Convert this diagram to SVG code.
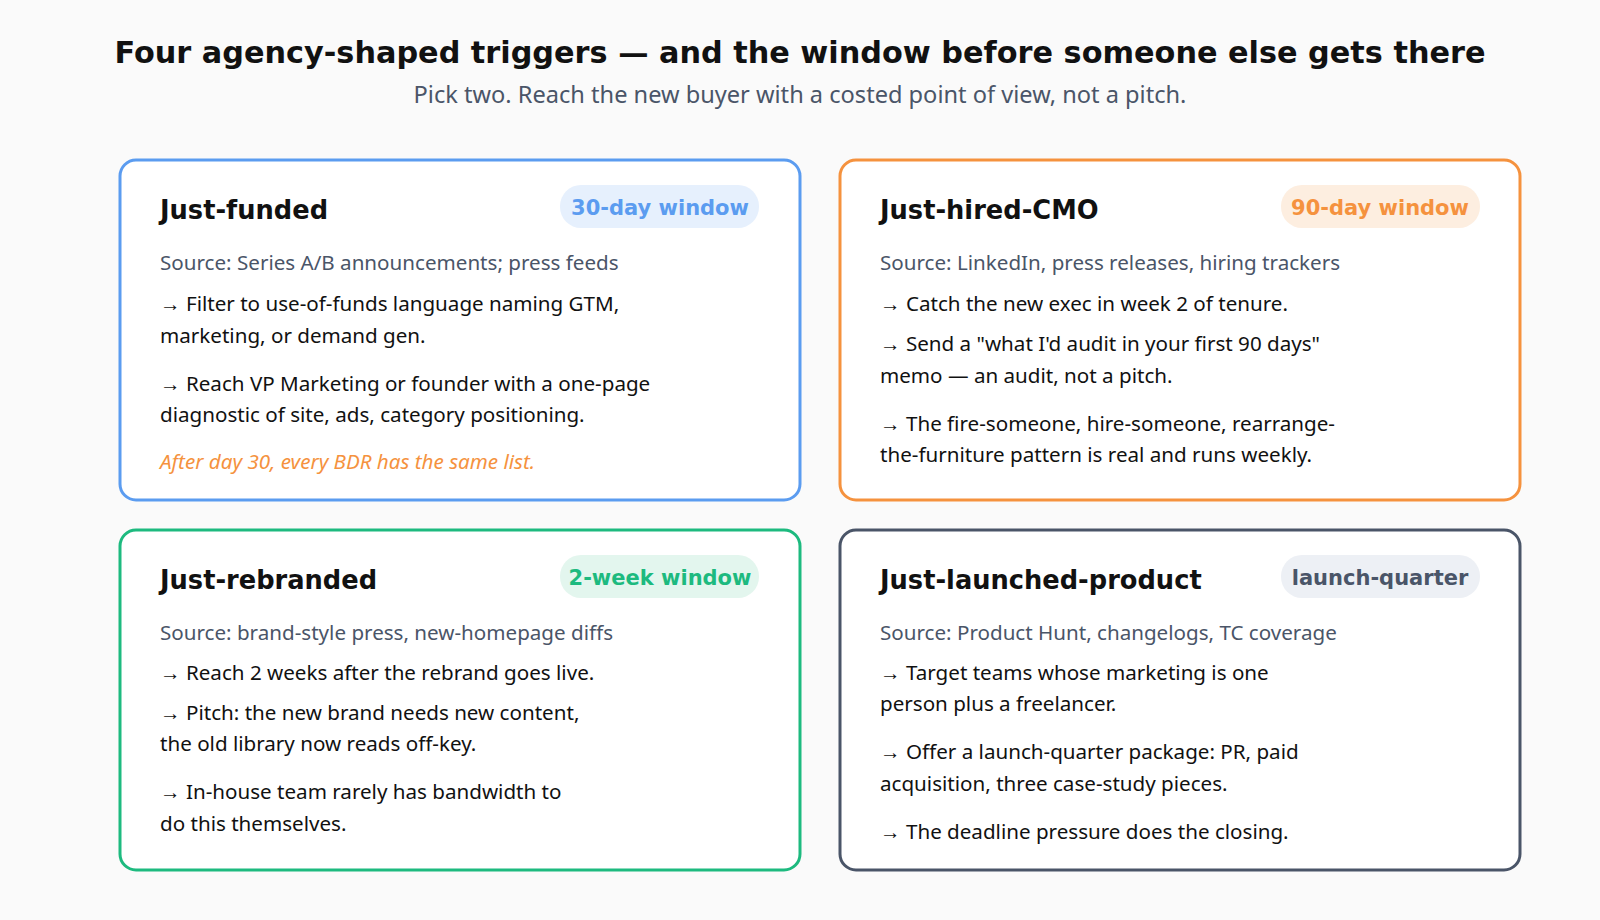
<svg xmlns="http://www.w3.org/2000/svg" width="1600" height="920" viewBox="0 0 1600 920">
<style>
.card{fill:#fff;stroke-width:3}
.h{font-family:"DejaVu Sans",sans-serif;font-weight:bold;font-size:25.7px;fill:#111}
.pill{font-family:"DejaVu Sans",sans-serif;font-weight:bold;font-size:21px;text-anchor:middle}
.src{font-family:"Noto Sans",sans-serif;font-size:20.6px;fill:#4a5568}
.b{font-family:"Noto Sans",sans-serif;font-size:20.6px;fill:#111}
.note{font-family:"Noto Sans",sans-serif;font-size:20.6px;font-style:italic;fill:#f5923e}
</style>
<rect width="1600" height="920" fill="#fafafa"/>
<text x="800" y="63" text-anchor="middle" font-family="DejaVu Sans,sans-serif" font-weight="bold" font-size="30.3" fill="#111">Four agency-shaped triggers — and the window before someone else gets there</text>
<text x="800" y="103" text-anchor="middle" font-family="Noto Sans,sans-serif" font-size="23.6" fill="#4a5568">Pick two. Reach the new buyer with a costed point of view, not a pitch.</text>
<g id="card-funded">
<rect class="card" x="120" y="160" width="680" height="340" rx="16" stroke="#5b9cf0"/>
<text class="h" x="160" y="219">Just-funded</text>
<rect x="560" y="185" width="199" height="43" rx="21" fill="#e6f0fd"/>
<text class="pill" x="660" y="215" fill="#5b9cf0">30-day window</text>
<text class="src" x="160" y="270">Source: Series A/B announcements; press feeds</text>
<text class="b" x="160" y="311">→ Filter to use-of-funds language naming GTM,</text>
<text class="b" x="160" y="343">marketing, or demand gen.</text>
<text class="b" x="160" y="391">→ Reach VP Marketing or founder with a one-page</text>
<text class="b" x="160" y="422">diagnostic of site, ads, category positioning.</text>
<text class="note" x="160" y="469">After day 30, every BDR has the same list.</text>
</g>
<g id="card-cmo">
<rect class="card" x="840" y="160" width="680" height="340" rx="16" stroke="#f5923e"/>
<text class="h" x="880" y="219">Just-hired-CMO</text>
<rect x="1281" y="185" width="199" height="43" rx="21" fill="#fdeee0"/>
<text class="pill" x="1380" y="215" fill="#f5923e">90-day window</text>
<text class="src" x="880" y="270">Source: LinkedIn, press releases, hiring trackers</text>
<text class="b" x="880" y="311">→ Catch the new exec in week 2 of tenure.</text>
<text class="b" x="880" y="351">→ Send a "what I'd audit in your first 90 days"</text>
<text class="b" x="880" y="383">memo — an audit, not a pitch.</text>
<text class="b" x="880" y="431">→ The fire-someone, hire-someone, rearrange-</text>
<text class="b" x="880" y="462">the-furniture pattern is real and runs weekly.</text>
</g>
<g id="card-rebrand">
<rect class="card" x="120" y="530" width="680" height="340" rx="16" stroke="#1dba7f"/>
<text class="h" x="160" y="589">Just-rebranded</text>
<rect x="560" y="555" width="199" height="43" rx="21" fill="#e3f6ee"/>
<text class="pill" x="660" y="585" fill="#1dba7f">2-week window</text>
<text class="src" x="160" y="640">Source: brand-style press, new-homepage diffs</text>
<text class="b" x="160" y="680">→ Reach 2 weeks after the rebrand goes live.</text>
<text class="b" x="160" y="720">→ Pitch: the new brand needs new content,</text>
<text class="b" x="160" y="751">the old library now reads off-key.</text>
<text class="b" x="160" y="799">→ In-house team rarely has bandwidth to</text>
<text class="b" x="160" y="831">do this themselves.</text>
</g>
<g id="card-launch">
<rect class="card" x="840" y="530" width="680" height="340" rx="16" stroke="#4a5568"/>
<text class="h" x="880" y="589">Just-launched-product</text>
<rect x="1281" y="555" width="199" height="43" rx="21" fill="#edf0f5"/>
<text class="pill" x="1380" y="585" fill="#4a5568">launch-quarter</text>
<text class="src" x="880" y="640">Source: Product Hunt, changelogs, TC coverage</text>
<text class="b" x="880" y="680">→ Target teams whose marketing is one</text>
<text class="b" x="880" y="711">person plus a freelancer.</text>
<text class="b" x="880" y="759">→ Offer a launch-quarter package: PR, paid</text>
<text class="b" x="880" y="791">acquisition, three case-study pieces.</text>
<text class="b" x="880" y="839">→ The deadline pressure does the closing.</text>
</g>
<g id="connectors"/>
</svg>
